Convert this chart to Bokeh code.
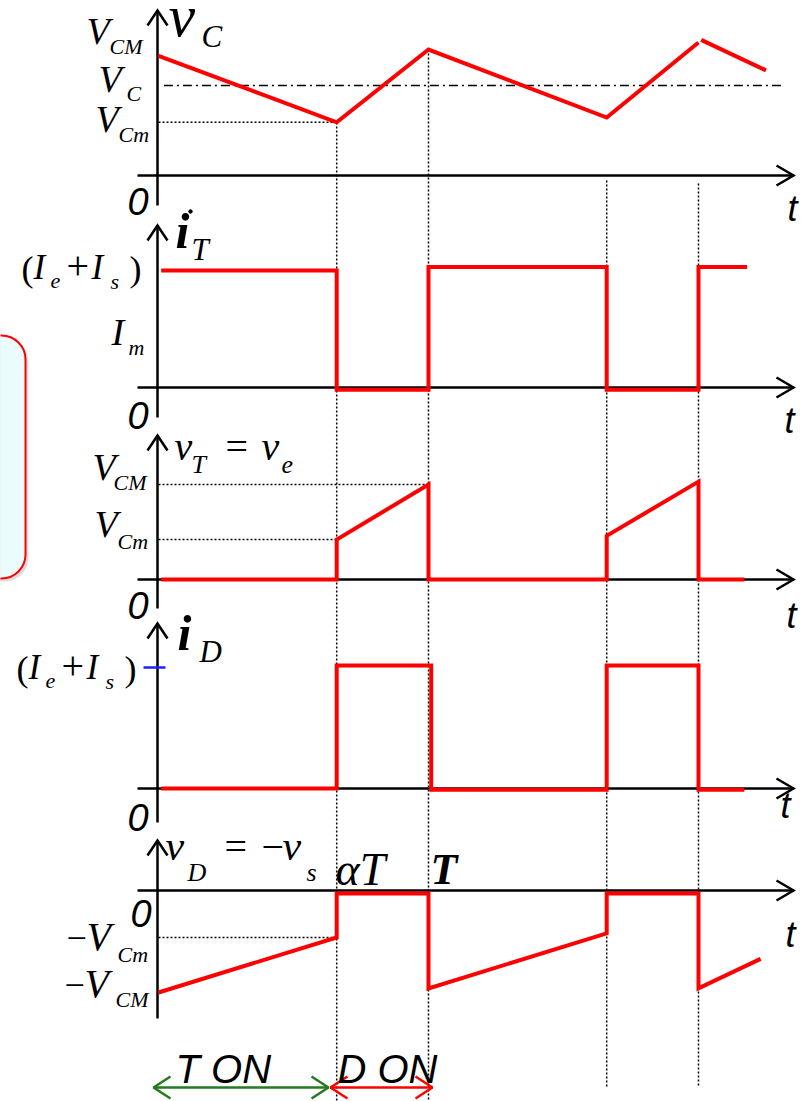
from bokeh.plotting import figure
from bokeh.models import Range1d
from bokeh.core.properties import value
from bokeh.embed import file_html
from bokeh.resources import INLINE

W, H = 807, 1101

# ---- waveform data (time in units of the period T) ----
ALPHA = 0.66

# capacitor voltage v_C, relative to V_CM
vc_t = [0.0, 0.66, 1.0, 1.66, 2.0]
vc_v = [0.90, 0.40, 0.947, 0.436, 1.0]
vc_tail_t = [2.01, 2.25]
vc_tail_v = [1.02, 0.79]
VC_MEAN = 0.677
VC_MIN = 0.40

# transistor current i_T, relative to (I_e + I_s)
it_t = [0.01, 0.66, 0.66, 1.0, 1.0, 1.66, 1.66, 2.0, 2.0, 2.18]
it_v = [1.0, 1.0, -0.02, -0.02, 1.03, 1.03, -0.02, -0.02, 1.03, 1.03]

# transistor voltage v_T = v_e, relative to V_CM
vt_t = [0.01, 0.66, 0.66, 1.0, 1.0, 1.66, 1.66, 2.0, 2.0, 2.17]
vt_v = [0.0, 0.0, 0.42, 1.0, 0.0, 0.0, 0.46, 1.03, 0.0, 0.0]
VT_MIN = 0.42
VT_MAX = 1.0

# diode current i_D, relative to (I_e + I_s)
id_t = [0.01, 0.66, 0.66, 1.01, 1.01, 1.66, 1.66, 2.0, 2.0, 2.17]
id_v = [0.0, 0.0, 1.0, 1.0, -0.01, -0.01, 1.0, 1.0, -0.01, -0.01]

# diode voltage v_D = -v_s, relative to V_CM
vd_t = [0.0, 0.66, 0.66, 1.0, 1.0, 1.66, 1.66, 2.0, 2.0, 2.23]
vd_v = [-1.0, -0.46, -0.03, -0.03, -0.96, -0.42, -0.03, -0.03, -0.96, -0.67]
VD_MIN = -0.46

# switching instants marked with vertical guides
guide_t = [0.66, 1.0, 1.66, 2.0]

# ---- layout: pixel geometry of the stacked panels ----
X0_PX, T_PX = 158, 270          # time origin and one period, in px
panels = {                       # name: (baseline px from top, px per unit)
    "vc": (175, 133),
    "it": (387, 117),
    "vt": (579, 95),
    "id": (788, 123),
    "vd": (890, 102),
}
axes_px = [(175, 10, 205), (387, 225, 417), (579, 435, 608),
           (788, 623, 822), (890, 840, 1018)]
AX_X = 157
guide_top = [122, 49, 180, 183]
guide_bot = [1101, 1101, 1087, 1087]

p = figure(width=W, height=H,
           x_range=Range1d(-X0_PX / T_PX, (W - X0_PX) / T_PX),
           y_range=Range1d(H, 0),
           output_backend="svg", toolbar_location=None, min_border=0,
           x_axis_type=None, y_axis_type=None, outline_line_color=None)
p.background_fill_color = "white"
p.border_fill_color = "white"
p.extra_x_ranges = {"px": Range1d(0, W)}
p.extra_y_ranges = {k: Range1d((b - H) / u, b / u) for k, (b, u) in panels.items()}

# ---- side note box (partly off the left edge) ----
p.quad(left=-40, right=28, top=338, bottom=581, border_radius=24,
       fill_color="#9a9a9a", fill_alpha=0.35, line_color=None, x_range_name="px")
p.quad(left=-40, right=25, top=335, bottom=578, border_radius=24,
       fill_color="#ebfcfd", line_color="#ff0000", line_width=2, x_range_name="px")

# ---- dotted guides ----
DOT = dict(line_color="black", line_width=1.5, line_dash="2 2")
p.segment(x0=guide_t, x1=guide_t, y0=guide_top, y1=guide_bot, **DOT)
p.line([0, ALPHA], [VC_MIN, VC_MIN], y_range_name="vc", **DOT)
p.line([0, 1.0], [VT_MAX, VT_MAX], y_range_name="vt", **DOT)
p.line([0, ALPHA], [VT_MIN, VT_MIN], y_range_name="vt", **DOT)
p.line([0, ALPHA], [VD_MIN, VD_MIN], y_range_name="vd", **DOT)
p.line([0.02, 2.31], [VC_MEAN, VC_MEAN], y_range_name="vc",
       line_color="black", line_width=1.5, line_dash="9 4 2 4")

# ---- axes with open arrow heads ----
xs, ys = [], []
for base, top, bot in axes_px:
    xs += [[137, 793], [AX_X, AX_X],
           [776, 793, 776], [AX_X - 10, AX_X, AX_X + 10]]
    ys += [[base, base], [top, bot],
           [base - 10, base, base + 10], [top + 15, top, top + 15]]
p.multi_line(xs, ys, line_color="black", line_width=2.5, line_join="miter",
             x_range_name="px")

# blue level tick on the i_D axis
p.line([143, 165], [667, 667], line_color="#1f1fff", line_width=2.5, x_range_name="px")

# ---- waveforms ----
RED = dict(line_color="#ff0000", line_width=4, line_join="miter")
p.line(vc_t, vc_v, y_range_name="vc", **RED)
p.line(vc_tail_t, vc_tail_v, y_range_name="vc", **RED)
p.line(it_t, it_v, y_range_name="it", **RED)
p.line(vt_t, vt_v, y_range_name="vt", **RED)
p.line(id_t, id_v, y_range_name="id", **RED)
p.line(vd_t, vd_v, y_range_name="vd", **RED)

# ---- conduction intervals ----
p.multi_line([[153, 328], [170, 153, 170], [311, 328, 311]],
             [[1087, 1087], [1076, 1087, 1098], [1076, 1087, 1098]],
             line_color="#237a1f", line_width=2.5, x_range_name="px")
p.multi_line([[330, 432], [347, 330, 347], [415, 432, 415]],
             [[1087, 1087], [1076, 1087, 1098], [1076, 1087, 1098]],
             line_color="#ff0000", line_width=2.5, x_range_name="px")

p.scatter([190], [211], size=3.5, color="black", x_range_name="px")

# ---- labels ----
SERIF, SANS = "Liberation Serif", "Liberation Sans"
BASE_SHIFT = 0.29   # alphabetic baseline correction, in em


def lab(x, y, s, size, style="italic", font=SERIF, color="black"):
    p.text(x=[x], y=[y - BASE_SHIFT * size], text=[s], text_font=value(font),
           text_font_size=value(f"{size}px"), text_font_style=style,
           text_color=color, text_align="left", text_baseline="alphabetic",
           x_range_name="px")


def frac_label(x, y):
    # (I_e + I_s)
    lab(x, y + 2, "(", 36, "normal")
    lab(x + 12, y, "I", 35)
    lab(x + 29, y + 10, "e", 22)
    lab(x + 45, y, "+", 40, "normal")
    lab(x + 70, y, "I", 35)
    lab(x + 89, y + 10, "s", 22)
    lab(x + 108, y + 2, ")", 36, "normal")


# v_C panel
lab(86, 42, "V", 38); lab(109, 52, "CM", 22)
lab(98, 90, "V", 38); lab(126, 99, "C", 22)
lab(95, 130, "V", 38); lab(118, 140, "Cm", 22)
lab(168, 33, "v", 60); lab(201, 45, "C", 31)
lab(127, 212, "0", 38, font=SANS)
lab(787, 218, "t", 36, font=SANS)

# i_T panel
frac_label(21, 277)
lab(111, 343, "I", 38); lab(128, 353, "m", 22)
lab(175, 245, "i", 50, "bold italic"); lab(191, 258, "T", 31)
lab(127, 426, "0", 38, font=SANS)
lab(784, 430, "t", 36, font=SANS)

# v_T panel
lab(174, 458, "v", 40); lab(191, 472, "T", 26)
lab(225, 458, "=", 40, "normal")
lab(261, 458, "v", 40); lab(281, 472, "e", 26)
lab(92, 478, "V", 38); lab(113, 488, "CM", 22)
lab(94, 535, "V", 38); lab(117, 547, "Cm", 22)
lab(127, 616, "0", 38, font=SANS)
lab(786, 625, "t", 36, font=SANS)

# i_D panel
frac_label(16, 677)
lab(177, 647, "i", 50, "bold italic"); lab(199, 660, "D", 31)
lab(127, 828, "0", 38, font=SANS)
lab(780, 815, "t", 36, font=SANS)

# v_D panel
lab(165, 858, "v", 42); lab(187, 880, "D", 26)
lab(224, 858, "=", 40, "normal")
lab(261, 858, "\u2212", 40, "normal")
lab(282, 858, "v", 42); lab(306, 880, "s", 26)
lab(335, 882, "\u03b1T", 46)
lab(430, 882, "T", 44, "bold italic")
lab(66, 948, "\u2212", 36, "normal"); lab(86, 948, "V", 40); lab(117, 960, "Cm", 22)
lab(64, 995, "\u2212", 36, "normal"); lab(84, 995, "V", 40); lab(115, 1005, "CM", 22)
lab(130, 924, "0", 38, font=SANS)
lab(785, 944, "t", 36, font=SANS)

# conduction interval captions
lab(175, 1080, "T ON", 40, font=SANS)
lab(337, 1080, "D ON", 40, font=SANS)

open("out.html", "w").write(file_html(p, INLINE))
